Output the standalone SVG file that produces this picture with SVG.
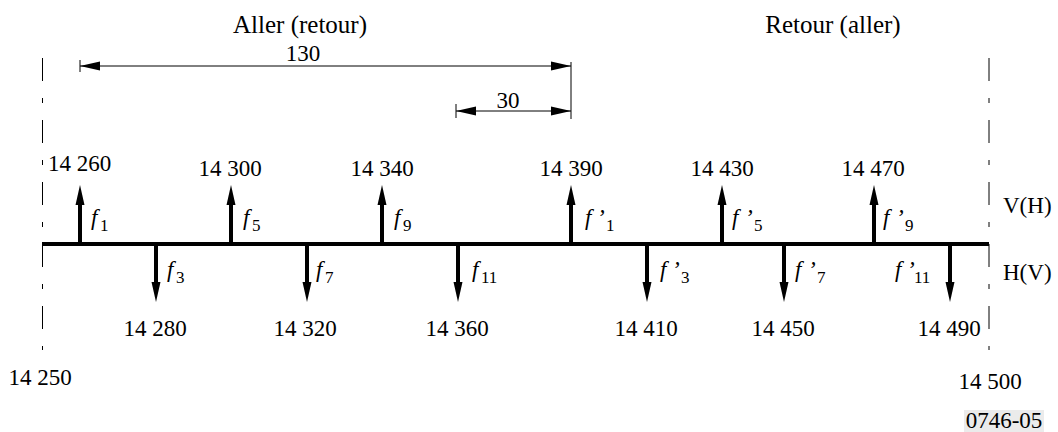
<svg xmlns="http://www.w3.org/2000/svg" width="1058" height="432" viewBox="0 0 1058 432">
<defs>
<marker id="big" markerUnits="userSpaceOnUse" markerWidth="20" markerHeight="10" refX="10" refY="4.5" orient="auto" overflow="visible"><path d="M0,0 L20,4.5 L0,9 z" fill="#000"/></marker>
<marker id="sm" markerUnits="userSpaceOnUse" markerWidth="20" markerHeight="10" refX="20" refY="4.5" orient="auto-start-reverse" overflow="visible"><path d="M0,0 L20,4.5 L0,9 z" fill="#000"/></marker>
</defs>
<g id="bounds" stroke="#000" stroke-width="1" stroke-dasharray="23 17 5 17" fill="none">
<line x1="42.5" y1="58" x2="42.5" y2="350"/>
<line x1="989" y1="58" x2="989" y2="350"/>
</g>
<g id="bound-labels">
<text style="font-family:'Liberation Serif',serif;font-size:23px" text-anchor="middle" x="40" y="385">14 250</text>
<text style="font-family:'Liberation Serif',serif;font-size:23px" text-anchor="middle" x="990" y="389">14 500</text>
</g>
<g id="headings">
<text style="font-family:'Liberation Serif',serif;font-size:25px" text-anchor="middle" x="300" y="33">Aller (retour)</text>
<text style="font-family:'Liberation Serif',serif;font-size:25px" text-anchor="middle" x="833" y="33">Retour (aller)</text>
<text style="font-family:'Liberation Serif',serif;font-size:23px" x="1003" y="213">V(H)</text>
<text style="font-family:'Liberation Serif',serif;font-size:23px" x="1003" y="280">H(V)</text>
</g>
<g id="dimensions" stroke="#000" stroke-width="1" fill="none">
<line x1="80" y1="66" x2="571" y2="66" marker-start="url(#sm)" marker-end="url(#sm)"/>
<line x1="80" y1="60" x2="80" y2="72"/>
<line x1="571" y1="62" x2="571" y2="119"/>
<line x1="456" y1="111" x2="571" y2="111" marker-start="url(#sm)" marker-end="url(#sm)"/>
<line x1="456" y1="104" x2="456" y2="118"/>
</g>
<g id="dimension-labels">
<text style="font-family:'Liberation Serif',serif;font-size:23px" text-anchor="middle" x="303" y="61">130</text>
<text style="font-family:'Liberation Serif',serif;font-size:23px" text-anchor="middle" x="508" y="108">30</text>
</g>
<g id="connectors" stroke="#000" stroke-width="4" fill="none">
<line x1="42" y1="244" x2="989" y2="244"/>
<g marker-end="url(#big)">
<line x1="80" y1="244" x2="80" y2="195"/>
<line x1="231" y1="244" x2="231" y2="195"/>
<line x1="382" y1="244" x2="382" y2="195"/>
<line x1="571" y1="244" x2="571" y2="195"/>
<line x1="722" y1="244" x2="722" y2="195"/>
<line x1="874" y1="244" x2="874" y2="195"/>
<line x1="156" y1="244" x2="156" y2="292"/>
<line x1="307" y1="244" x2="307" y2="292"/>
<line x1="458" y1="244" x2="458" y2="292"/>
<line x1="647" y1="244" x2="647" y2="292"/>
<line x1="784" y1="244" x2="784" y2="292"/>
<line x1="950" y1="244" x2="950" y2="292"/>
</g>
</g>
<g id="f1"><text style="font-family:'Liberation Serif',serif;font-size:23px" x="48" y="171">14 260</text><text style="font-family:'Liberation Serif',serif;font-size:23px" x="91" y="225"><tspan style="font-family:'Liberation Serif',serif;font-style:italic">f</tspan><tspan style="font-family:'Liberation Serif',serif;font-size:17px" x="100" dy="6">1</tspan></text></g>
<g id="f5"><text style="font-family:'Liberation Serif',serif;font-size:23px" text-anchor="middle" x="230" y="176">14 300</text><text style="font-family:'Liberation Serif',serif;font-size:23px" x="243" y="225"><tspan style="font-family:'Liberation Serif',serif;font-style:italic">f</tspan><tspan style="font-family:'Liberation Serif',serif;font-size:17px" x="252" dy="6">5</tspan></text></g>
<g id="f9"><text style="font-family:'Liberation Serif',serif;font-size:23px" text-anchor="middle" x="382" y="176">14 340</text><text style="font-family:'Liberation Serif',serif;font-size:23px" x="394" y="225"><tspan style="font-family:'Liberation Serif',serif;font-style:italic">f</tspan><tspan style="font-family:'Liberation Serif',serif;font-size:17px" x="403" dy="6">9</tspan></text></g>
<g id="fp1"><text style="font-family:'Liberation Serif',serif;font-size:23px" text-anchor="middle" x="571" y="176">14 390</text><text style="font-family:'Liberation Serif',serif;font-size:23px" x="585" y="225"><tspan style="font-family:'Liberation Serif',serif;font-style:italic">f</tspan><tspan style="font-family:'Liberation Serif',serif;font-style:italic" x="597">&#8217;</tspan><tspan style="font-family:'Liberation Serif',serif;font-size:17px" x="606" dy="6">1</tspan></text></g>
<g id="fp5"><text style="font-family:'Liberation Serif',serif;font-size:23px" text-anchor="middle" x="722" y="176">14 430</text><text style="font-family:'Liberation Serif',serif;font-size:23px" x="732" y="225"><tspan style="font-family:'Liberation Serif',serif;font-style:italic">f</tspan><tspan style="font-family:'Liberation Serif',serif;font-style:italic" x="745">&#8217;</tspan><tspan style="font-family:'Liberation Serif',serif;font-size:17px" x="754" dy="6">5</tspan></text></g>
<g id="fp9"><text style="font-family:'Liberation Serif',serif;font-size:23px" text-anchor="middle" x="873" y="176">14 470</text><text style="font-family:'Liberation Serif',serif;font-size:23px" x="883" y="225"><tspan style="font-family:'Liberation Serif',serif;font-style:italic">f</tspan><tspan style="font-family:'Liberation Serif',serif;font-style:italic" x="896">&#8217;</tspan><tspan style="font-family:'Liberation Serif',serif;font-size:17px" x="905" dy="6">9</tspan></text></g>
<g id="f3"><text style="font-family:'Liberation Serif',serif;font-size:23px" text-anchor="middle" x="155" y="336">14 280</text><text style="font-family:'Liberation Serif',serif;font-size:23px" x="167" y="277"><tspan style="font-family:'Liberation Serif',serif;font-style:italic">f</tspan><tspan style="font-family:'Liberation Serif',serif;font-size:17px" x="176" dy="6">3</tspan></text></g>
<g id="f7"><text style="font-family:'Liberation Serif',serif;font-size:23px" text-anchor="middle" x="305" y="336">14 320</text><text style="font-family:'Liberation Serif',serif;font-size:23px" x="316" y="277"><tspan style="font-family:'Liberation Serif',serif;font-style:italic">f</tspan><tspan style="font-family:'Liberation Serif',serif;font-size:17px" x="325" dy="6">7</tspan></text></g>
<g id="f11"><text style="font-family:'Liberation Serif',serif;font-size:23px" text-anchor="middle" x="457" y="336">14 360</text><text style="font-family:'Liberation Serif',serif;font-size:23px" x="472" y="277"><tspan style="font-family:'Liberation Serif',serif;font-style:italic">f</tspan><tspan style="font-family:'Liberation Serif',serif;font-size:17px" x="481" dy="6">11</tspan></text></g>
<g id="fp3"><text style="font-family:'Liberation Serif',serif;font-size:23px" text-anchor="middle" x="646" y="336">14 410</text><text style="font-family:'Liberation Serif',serif;font-size:23px" x="660" y="277"><tspan style="font-family:'Liberation Serif',serif;font-style:italic">f</tspan><tspan style="font-family:'Liberation Serif',serif;font-style:italic" x="672">&#8217;</tspan><tspan style="font-family:'Liberation Serif',serif;font-size:17px" x="681" dy="6">3</tspan></text></g>
<g id="fp7"><text style="font-family:'Liberation Serif',serif;font-size:23px" text-anchor="middle" x="783" y="336">14 450</text><text style="font-family:'Liberation Serif',serif;font-size:23px" x="795" y="277"><tspan style="font-family:'Liberation Serif',serif;font-style:italic">f</tspan><tspan style="font-family:'Liberation Serif',serif;font-style:italic" x="808">&#8217;</tspan><tspan style="font-family:'Liberation Serif',serif;font-size:17px" x="817" dy="6">7</tspan></text></g>
<g id="fp11"><text style="font-family:'Liberation Serif',serif;font-size:23px" text-anchor="middle" x="949" y="336">14 490</text><text style="font-family:'Liberation Serif',serif;font-size:23px" x="895" y="277"><tspan style="font-family:'Liberation Serif',serif;font-style:italic">f</tspan><tspan style="font-family:'Liberation Serif',serif;font-style:italic" x="907">&#8217;</tspan><tspan style="font-family:'Liberation Serif',serif;font-size:17px" x="914" dy="6">11</tspan></text></g>
<g id="ref"><rect x="964" y="410" width="80" height="22" fill="#ebebeb"/><text style="font-family:'Liberation Serif',serif;font-size:23px" text-anchor="middle" x="1004" y="428">0746-05</text></g>
</svg>
